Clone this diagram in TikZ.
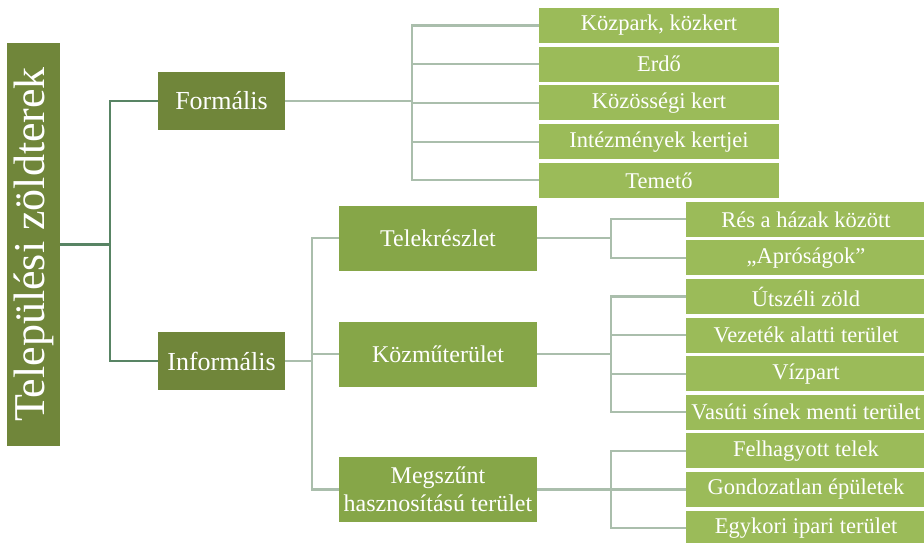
\documentclass[tikz,border=0pt]{standalone}
\usepackage{fontspec}
\setmainfont{Liberation Serif}

\definecolor{rootgreen}{RGB}{112,134,58}
\definecolor{midgreen}{RGB}{134,166,72}
\definecolor{leafgreen}{RGB}{155,187,89}
\definecolor{darkline}{RGB}{88,132,100}
\definecolor{lightline}{RGB}{170,190,172}

\tikzset{
  rootbox/.style={rectangle, fill=rootgreen, text=white, inner sep=0pt},
  mainbox/.style={rectangle, fill=rootgreen, text=white, inner sep=0pt,
    minimum width=127pt, minimum height=58pt, font=\rmfamily\fontsize{26}{30}\selectfont},
  midbox/.style={rectangle, fill=midgreen, text=white, inner sep=0pt, align=center,
    minimum width=198pt, minimum height=65pt, font=\rmfamily\fontsize{24}{28}\selectfont},
  leafbox/.style={rectangle, fill=leafgreen, text=white, inner sep=0pt,
    minimum width=240pt, minimum height=35pt, font=\rmfamily\fontsize{22.5}{24}\selectfont},
  rootedge/.style={draw=darkline, line width=2.2pt},
  leafedge/.style={draw=lightline, line width=2.2pt}
}

\begin{document}
\begin{tikzpicture}[x=1pt, y=-1pt]
        \useasboundingbox (0,0) rectangle (924,542);

        % Nodes
        \node (root) [rootbox, minimum width=403pt, minimum height=53pt, rotate=90,
          font=\rmfamily\fontsize{44}{48}\selectfont] at (33.5, 244.5) {Települési zöldterek};
        \node (formal) [mainbox] at (221.5, 101) {Formális};
        \node (informal) [mainbox] at (221.5, 361) {Informális};

        \node (park) [leafbox] at (659, 25.5) {Közpark, közkert};
        \node (forest) [leafbox] at (659, 64.2) {Erdő};
        \node (community) [leafbox] at (659, 102.9) {Közösségi kert};
        \node (institution) [leafbox] at (659, 141.6) {Intézmények kertjei};
        \node (cemetery) [leafbox] at (659, 180.3) {Temető};

        \node (plot) [midbox] at (438, 238) {Telekrészlet};
        \node (utility) [midbox] at (438, 354) {Közműterület};
        \node (abandoned) [midbox] at (438, 489.5) {Megszűnt\\hasznosítású terület};

        \node (gap) [leafbox] at (806, 219.3) {Rés a házak között};
        \node (small) [leafbox] at (806, 257.9) {„Apróságok”};
        \node (roadside) [leafbox] at (806, 296.5) {Útszéli zöld};
        \node (powerline) [leafbox] at (806, 335.1) {Vezeték alatti terület};
        \node (waterside) [leafbox] at (806, 373.7) {Vízpart};
        \node (railway) [leafbox] at (806, 412.3) {Vasúti sínek menti terület};
        \node (oldplot) [leafbox] at (806, 450.9) {Felhagyott telek};
        \node (buildings) [leafbox] at (806, 489.5) {Gondozatlan épületek};
        \node (industrial) [leafbox] at (806, 528.1) {Egykori ipari terület};

        % Edges
        \draw[rootedge] (root.south) -- ++(50,0) coordinate (rj) |- (formal.west);
        \draw[rootedge] (rj) |- (informal.west);

        \draw[leafedge] (formal.east) -- ++(127,0) coordinate (fj);
        \draw[leafedge] (fj) |- (park.west);
        \draw[leafedge] (fj) |- (forest.west);
        \draw[leafedge] (fj) |- (community.west);
        \draw[leafedge] (fj) |- (institution.west);
        \draw[leafedge] (fj) |- (cemetery.west);

        \draw[leafedge] (informal.east) -- ++(27,0) coordinate (ij);
        \draw[leafedge] (ij) |- (plot.west);
        \draw[leafedge] (ij) |- (utility.west);
        \draw[leafedge] (ij) |- (abandoned.west);

        \draw[leafedge] (plot.east) -- ++(74,0) coordinate (pj);
        \draw[leafedge] (pj) |- (gap.west);
        \draw[leafedge] (pj) |- (small.west);

        \draw[leafedge] (utility.east) -- ++(74,0) coordinate (uj);
        \draw[leafedge] (uj) |- (roadside.west);
        \draw[leafedge] (uj) |- (powerline.west);
        \draw[leafedge] (uj) |- (waterside.west);
        \draw[leafedge] (uj) |- (railway.west);

        \draw[leafedge] (abandoned.east) -- ++(74,0) coordinate (aj);
        \draw[leafedge] (aj) |- (oldplot.west);
        \draw[leafedge] (aj) |- (buildings.west);
        \draw[leafedge] (aj) |- (industrial.west);

    \end{tikzpicture}
\end{document}
